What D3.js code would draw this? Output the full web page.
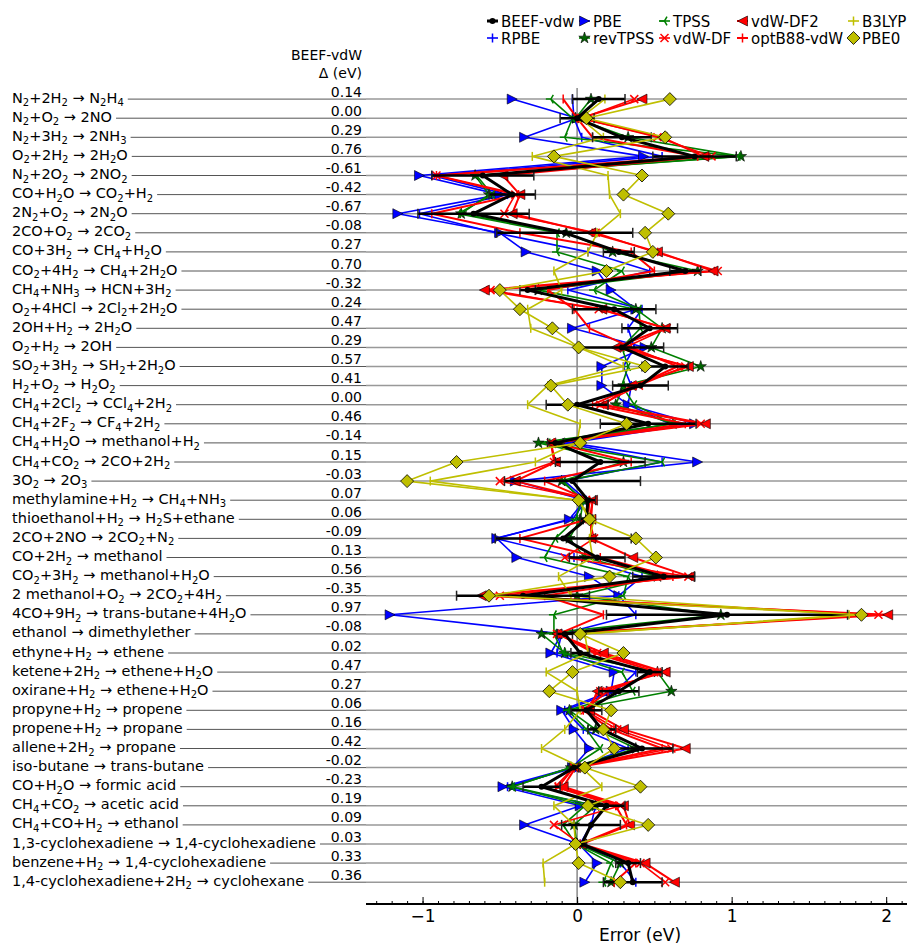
<!DOCTYPE html>
<html>
<head>
<meta charset="utf-8">
<script src="https://cdn.jsdelivr.net/npm/d3@7"></script>
<style>
  body { margin: 0; background: #fff; }
  text { font-family: "DejaVu Sans", sans-serif; }
</style>
</head>
<body>
<svg id="chart" width="907" height="946"></svg>
<script>
// reaction labels, "_n" marks a subscript
const reactions = [
  "N_2+2H_2 → N_2H_4", "N_2+O_2 → 2NO", "N_2+3H_2 → 2NH_3", "O_2+2H_2 → 2H_2O",
  "N_2+2O_2 → 2NO_2", "CO+H_2O → CO_2+H_2", "2N_2+O_2 → 2N_2O", "2CO+O_2 → 2CO_2",
  "CO+3H_2 → CH_4+H_2O", "CO_2+4H_2 → CH_4+2H_2O", "CH_4+NH_3 → HCN+3H_2",
  "O_2+4HCl → 2Cl_2+2H_2O", "2OH+H_2 → 2H_2O", "O_2+H_2 → 2OH", "SO_2+3H_2 → SH_2+2H_2O",
  "H_2+O_2 → H_2O_2", "CH_4+2Cl_2 → CCl_4+2H_2", "CH_4+2F_2 → CF_4+2H_2",
  "CH_4+H_2O → methanol+H_2", "CH_4+CO_2 → 2CO+2H_2", "3O_2 → 2O_3",
  "methylamine+H_2 → CH_4+NH_3", "thioethanol+H_2 → H_2S+ethane", "2CO+2NO → 2CO_2+N_2",
  "CO+2H_2 → methanol", "CO_2+3H_2 → methanol+H_2O", "2 methanol+O_2 → 2CO_2+4H_2",
  "4CO+9H_2 → trans-butane+4H_2O", "ethanol → dimethylether", "ethyne+H_2 → ethene",
  "ketene+2H_2 → ethene+H_2O", "oxirane+H_2 → ethene+H_2O", "propyne+H_2 → propene",
  "propene+H_2 → propane", "allene+2H_2 → propane", "iso-butane → trans-butane",
  "CO+H_2O → formic acid", "CH_4+CO_2 → acetic acid", "CH_4+CO+H_2 → ethanol",
  "1,3-cyclohexadiene → 1,4-cyclohexadiene", "benzene+H_2 → 1,4-cyclohexadiene",
  "1,4-cyclohexadiene+2H_2 → cyclohexane"
];

// errors (eV) per functional, one value per reaction
const beefVdw = [0.14,0.00,0.29,0.76,-0.61,-0.42,-0.67,-0.08,0.27,0.70,-0.32,0.24,0.47,0.29,0.57,0.41,0.00,0.46,-0.14,0.15,-0.03,0.07,0.06,-0.09,0.13,0.56,-0.35,0.97,-0.08,0.02,0.47,0.27,0.06,0.16,0.42,-0.02,-0.23,0.19,0.09,0.03,0.33,0.36];
const beefSpread = [0.17,0.11,0.19,0.27,0.33,0.15,0.36,0.44,0.10,0.10,0.05,0.27,0.18,0.27,0.15,0.18,0.20,0.31,0.05,0.29,0.44,0.05,0.04,0.44,0.18,0.20,0.43,0.78,0.05,0.06,0.08,0.13,0.10,0.09,0.20,0.03,0.12,0.12,0.19,0.03,0.08,0.19];
const rpbe = [-0.03,-0.02,0.03,0.55,-0.94,-0.45,-1.02,-0.53,0.07,0.47,-0.06,0.42,0.33,0.37,0.30,0.35,0.33,0.60,-0.08,0.55,-0.08,0.06,-0.03,-0.53,-0.02,0.42,0.27,0.38,-0.10,-0.13,0.38,0.25,-0.08,0.04,0.33,-0.01,-0.45,0.12,0.09,0.02,0.28,0.38];
const pbe = [-0.42,0.00,-0.34,0.43,-1.02,-0.50,-1.16,-0.50,-0.33,0.13,0.22,0.38,-0.03,0.44,0.16,0.16,0.33,0.76,-0.05,0.78,-0.40,0.05,-0.05,-0.52,-0.39,0.08,0.27,-1.21,-0.10,-0.17,0.24,0.22,-0.10,-0.02,0.08,-0.03,-0.48,0.02,-0.34,0.01,0.13,0.05];
const revTpss = [0.09,-0.01,0.33,1.06,-0.66,-0.57,-0.75,-0.07,0.23,0.78,-0.25,0.38,0.55,0.48,0.80,0.30,0.25,0.62,-0.25,0.30,-0.10,0.04,0.02,-0.05,0.05,0.52,0.00,0.93,-0.23,-0.08,0.52,0.61,-0.05,0.12,0.38,-0.04,-0.42,0.12,-0.02,0.00,0.28,0.22];
const tpss = [-0.17,-0.03,-0.08,1.04,-0.65,-0.55,-0.77,-0.13,-0.13,0.29,0.11,0.40,0.41,0.29,0.33,0.29,0.37,0.62,-0.19,0.55,-0.09,0.03,-0.01,-0.14,-0.21,0.33,0.30,-0.15,-0.15,-0.09,0.29,0.36,-0.06,0.06,0.15,-0.04,-0.42,0.05,-0.09,-0.01,0.22,0.17];
const vdwDf = [0.37,0.03,0.52,0.87,-0.91,-0.40,-0.47,0.12,0.50,0.91,-0.56,0.14,0.58,0.31,0.70,0.40,0.15,0.80,-0.17,-0.15,-0.50,0.10,0.08,0.11,-0.08,0.72,-0.50,1.95,-0.13,0.13,0.56,0.15,0.05,0.26,0.61,-0.02,-0.12,0.28,-0.15,0.02,0.41,0.57];
const vdwDf2 = [0.42,0.02,0.55,0.82,-0.48,-0.37,-0.42,0.09,0.52,0.88,-0.60,0.16,0.57,0.25,0.72,0.35,0.17,0.83,-0.17,-0.14,-0.40,0.10,0.09,0.09,0.36,0.73,-0.62,2.01,-0.13,0.17,0.57,0.13,0.08,0.30,0.70,-0.01,-0.09,0.30,0.34,0.03,0.44,0.63];
const optB88 = [-0.09,0.00,0.10,0.78,-0.91,-0.38,-0.94,-0.37,0.35,0.50,-0.19,-0.02,0.08,0.35,0.65,0.38,0.10,0.70,-0.15,0.35,-0.21,0.08,0.07,-0.37,0.15,0.62,-0.21,0.17,-0.12,0.11,0.52,0.20,0.04,0.22,0.55,-0.02,-0.14,0.25,0.32,0.02,0.38,0.24];
const b3lyp = [0.18,0.02,0.17,-0.29,0.20,0.21,0.28,0.13,0.07,-0.15,-0.10,-0.32,-0.30,0.01,0.30,-0.19,-0.32,0.02,0.00,-0.27,-0.95,0.00,0.11,0.08,0.10,-0.12,-0.04,1.76,0.05,0.07,-0.20,0.00,0.02,-0.08,-0.23,0.03,0.16,-0.15,-0.02,-0.01,-0.22,-0.21];
const pbe0 = [0.60,0.06,0.57,-0.15,0.42,0.30,0.59,0.44,0.49,0.19,-0.50,-0.37,-0.16,0.01,0.44,-0.17,-0.06,0.32,0.02,-0.78,-1.10,0.01,0.08,0.38,0.51,0.21,-0.57,1.84,0.02,0.30,-0.03,-0.18,0.22,0.17,0.24,0.05,0.41,0.07,0.46,-0.01,0.01,0.28];

const xTicks = [-1, 0, 1, 2];

// series in plotting order (BEEF drawn late so it sits on top)
const series = [
  { name: 'RPBE', values: rpbe, color: '#0000ff', lw: 1.6, marker: 'vline' },
  { name: 'PBE', values: pbe, color: '#0000ff', lw: 1.6, marker: 'tri-right' },
  { name: 'revTPSS', values: revTpss, color: '#008000', lw: 1.6, marker: 'star' },
  { name: 'TPSS', values: tpss, color: '#008000', lw: 1.6, marker: 'tri3' },
  { name: 'vdW-DF', values: vdwDf, color: '#ff0000', lw: 1.6, marker: 'x' },
  { name: 'vdW-DF2', values: vdwDf2, color: '#ff0000', lw: 2, marker: 'tri-left' },
  { name: 'optB88-vdW', values: optB88, color: '#ff0000', lw: 2, marker: 'vline' },
  { name: 'B3LYP', values: b3lyp, color: '#bfbf00', lw: 1.6, marker: 'vline' },
  { name: 'BEEF-vdw', values: beefVdw, color: '#000000', lw: 3, marker: 'dot' },
  { name: 'PBE0', values: pbe0, color: '#bfbf00', lw: 1.6, marker: 'diamond' }
];
const byName = {};
series.forEach(s => byName[s.name] = s);

const svg = d3.select('#chart');

const x = d3.scaleLinear().domain([-1.366, 2.18]).range([366, 914]);
const y = d3.scaleLinear().domain([0, reactions.length - 1]).range([99.1, 882.2]);
const axisY = 904;
const plotTop = 88;

// marker drawing
function drawMarker(g, type, cx, cy, color) {
  const s = 5;
  if (type === 'dot') {
    g.append('circle').attr('cx', cx).attr('cy', cy).attr('r', 3).attr('fill', '#000');
  } else if (type === 'vline') {
    g.append('line').attr('x1', cx).attr('x2', cx).attr('y1', cy - 4.5).attr('y2', cy + 4.5)
      .attr('stroke', color).attr('stroke-width', 1.5);
  } else if (type === 'x') {
    g.append('path').attr('d', `M${cx-4},${cy-4}L${cx+4},${cy+4}M${cx-4},${cy+4}L${cx+4},${cy-4}`)
      .attr('stroke', color).attr('stroke-width', 1.5);
  } else if (type === 'tri3') {
    g.append('path').attr('d', `M${cx},${cy}L${cx-5},${cy}M${cx},${cy}L${cx+2.5},${cy-4.3}M${cx},${cy}L${cx+2.5},${cy+4.3}`)
      .attr('stroke', color).attr('stroke-width', 1.5);
  } else if (type === 'tri-right') {
    g.append('path').attr('d', `M${cx-s},${cy-s}L${cx+s},${cy}L${cx-s},${cy+s}Z`)
      .attr('fill', color).attr('stroke', '#000').attr('stroke-width', 0.6);
  } else if (type === 'tri-left') {
    g.append('path').attr('d', `M${cx+s},${cy-s}L${cx-s},${cy}L${cx+s},${cy+s}Z`)
      .attr('fill', color).attr('stroke', '#000').attr('stroke-width', 0.6);
  } else if (type === 'diamond') {
    g.append('path').attr('d', `M${cx},${cy-6.5}L${cx+6.5},${cy}L${cx},${cy+6.5}L${cx-6.5},${cy}Z`)
      .attr('fill', color).attr('stroke', '#000').attr('stroke-width', 0.8);
  } else if (type === 'star') {
    g.append('path').attr('d', d3.symbol(d3.symbolStar, 40)())
      .attr('transform', `translate(${cx},${cy})`)
      .attr('fill', '#006400').attr('stroke', '#000').attr('stroke-width', 0.6);
  }
}

// label text with subscripts
function addLabel(sel, str) {
  const parts = str.split(/_(\d)/);
  parts.forEach((p, i) => {
    if (p === '') return;
    const isSub = i % 2 === 1;
    const afterSub = i > 0 && (i - 1) % 2 === 1;
    sel.append('tspan')
      .attr('font-size', isSub ? '10px' : null)
      .attr('dy', isSub ? 3.5 : (afterSub ? -3.5 : 0))
      .text(p);
  });
}

// row lines + labels
const rows = svg.append('g');
reactions.forEach((r, i) => {
  const t = rows.append('text')
    .attr('x', 12).attr('y', y(i) + 3.5)
    .attr('font-size', '14.5px').attr('fill', '#000');
  addLabel(t, r);
  const w = t.node().getComputedTextLength();
  rows.append('line')
    .attr('x1', 12 + w + 4).attr('x2', 366)
    .attr('y1', y(i)).attr('y2', y(i))
    .attr('stroke', '#555').attr('stroke-width', 1);
  rows.append('text')
    .attr('x', 362).attr('y', y(i) - 2.5)
    .attr('text-anchor', 'end').attr('font-size', '14px')
    .text(beefVdw[i].toFixed(2));
});

// gridlines in the plot area
svg.append('g').selectAll('line')
  .data(reactions)
  .enter()
  .append('line')
  .attr('x1', 366).attr('x2', 907)
  .attr('y1', (d, i) => y(i)).attr('y2', (d, i) => y(i))
  .attr('stroke', '#999').attr('stroke-width', 1.5);

svg.append('line')
  .attr('x1', x(0)).attr('x2', x(0)).attr('y1', plotTop).attr('y2', axisY)
  .attr('stroke', '#888').attr('stroke-width', 1.5);

// header for delta column
svg.append('text').attr('x', 362).attr('y', 60).attr('text-anchor', 'end')
  .attr('font-size', '14px').text('BEEF-vdW');
svg.append('text').attr('x', 362).attr('y', 78).attr('text-anchor', 'end')
  .attr('font-size', '14px').text('Δ (eV)');

const plot = svg.append('g');
const lineGen = d3.line().x(d => x(d)).y((d, i) => y(i));

series.forEach(s => {
  const g = plot.append('g');
  if (s.name === 'BEEF-vdw') {
    // ensemble error bars
    beefVdw.forEach((v, i) => {
      const lo = x(v - beefSpread[i]), hi = x(v + beefSpread[i]);
      g.append('line').attr('x1', lo).attr('x2', hi).attr('y1', y(i)).attr('y2', y(i))
        .attr('stroke', '#000').attr('stroke-width', 2.5);
      [lo, hi].forEach(cx => g.append('line')
        .attr('x1', cx).attr('x2', cx).attr('y1', y(i) - 5).attr('y2', y(i) + 5)
        .attr('stroke', '#222').attr('stroke-width', 1.5));
    });
  }
  g.append('path')
    .attr('d', lineGen(s.values))
    .attr('fill', 'none')
    .attr('stroke', s.color)
    .attr('stroke-width', s.lw)
    .attr('stroke-linejoin', 'round');
  s.values.forEach((v, i) => drawMarker(g, s.marker, x(v), y(i), s.color));
});

// x axis: minor ticks every 0.1, major at integers
const axisG = svg.append('g').attr('transform', `translate(0,${axisY})`);
axisG.call(d3.axisBottom(x).tickValues(d3.range(-13, 22).map(d => d / 10)).tickSize(-3).tickFormat(''))
  .call(g => g.select('.domain').remove());
const majorG = svg.append('g').attr('transform', `translate(0,${axisY})`);
majorG.call(d3.axisBottom(x).tickValues(xTicks).tickSize(-7).tickPadding(6).tickFormat(d3.format('d')))
  .call(g => g.select('.domain').remove());
majorG.selectAll('text').attr('font-size', '17px').attr('font-family', '"DejaVu Sans", sans-serif');
svg.selectAll('.tick line').attr('stroke', '#000').attr('stroke-width', 1);
svg.append('line').attr('x1', 366).attr('x2', 907).attr('y1', axisY).attr('y2', axisY)
  .attr('stroke', '#000').attr('stroke-width', 2);
svg.append('text').attr('x', 640).attr('y', 941).attr('text-anchor', 'middle')
  .attr('font-size', '17px').text('Error (eV)');

// legend, filled column by column
const legendCols = [['BEEF-vdw', 'RPBE'], ['PBE', 'revTPSS'], ['TPSS', 'vdW-DF'], ['vdW-DF2', 'optB88-vdW'], ['B3LYP', 'PBE0']];
const colX = [487, 579, 659, 737, 848];
const legend = svg.append('g');
legendCols.forEach((col, c) => {
  col.forEach((name, r) => {
    const s = byName[name];
    const ly = 21 + r * 17;
    legend.append('line').attr('x1', colX[c]).attr('x2', colX[c] + 11).attr('y1', ly).attr('y2', ly)
      .attr('stroke', s.color).attr('stroke-width', s.lw);
    drawMarker(legend, s.marker, colX[c] + 5.5, ly, s.color);
    legend.append('text').attr('x', colX[c] + 14).attr('y', ly + 5.5)
      .attr('font-size', '15px').text(name);
  });
});
</script>
</body>
</html>
